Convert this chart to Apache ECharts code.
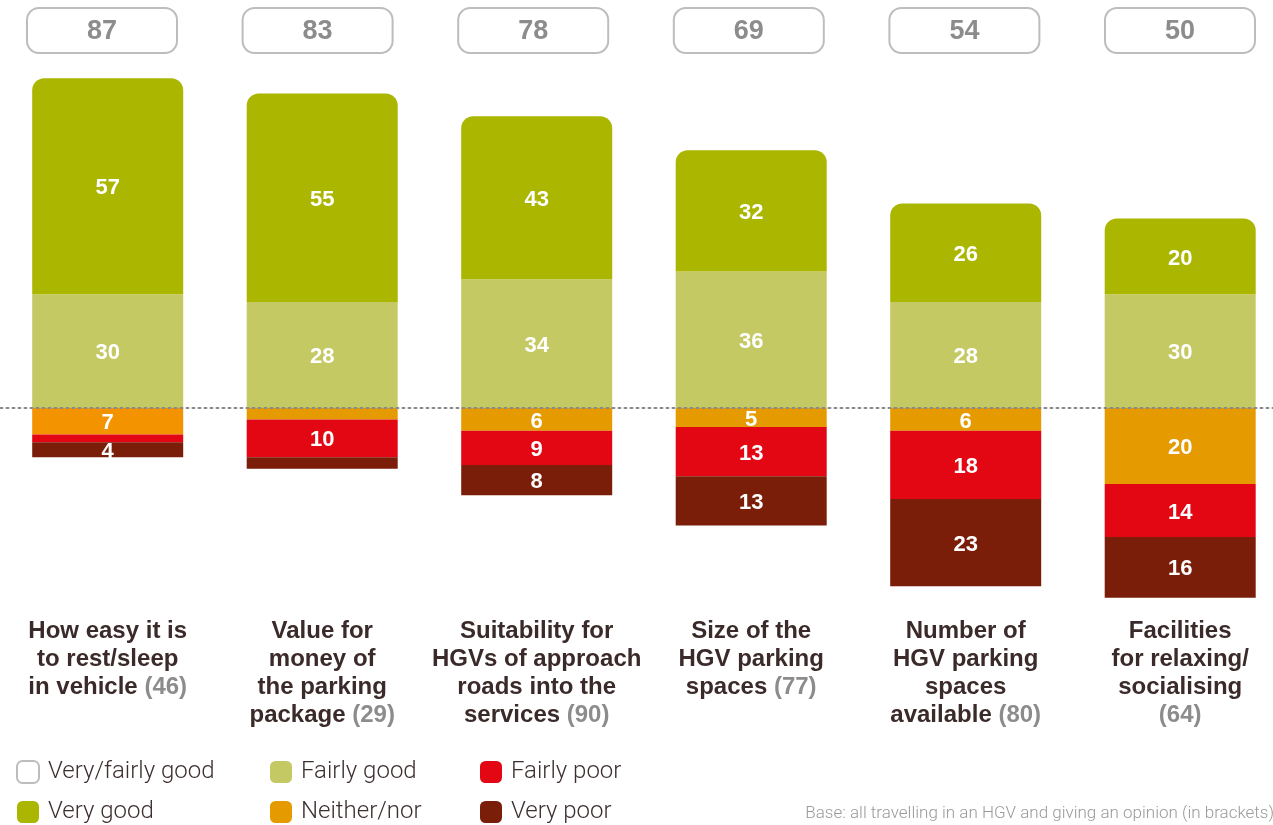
<!DOCTYPE html>
<html>
<head>
<meta charset="utf-8">
<script src="https://cdn.jsdelivr.net/npm/echarts@6/dist/echarts.min.js"></script>
<style>
  html, body { margin: 0; padding: 0; background: #fff; }
  #chart { width: 1273px; height: 825px; }
</style>
</head>
<body>
<div id="chart"></div>
<script>
// categories, last line gets the base in brackets (trailing \n = base on own line)
const categories = [
  'How easy it is\nto rest/sleep\nin vehicle',
  'Value for\nmoney of\nthe parking\npackage',
  'Suitability for\nHGVs of approach\nroads into the\nservices',
  'Size of the\nHGV parking\nspaces',
  'Number of\nHGV parking\nspaces\navailable',
  'Facilities\nfor relaxing/\nsocialising\n'
];
const bases = [46, 29, 90, 77, 80, 64];
const totals = [87, 83, 78, 69, 54, 50];
const veryGood = [57, 55, 43, 32, 26, 20];
const fairlyGood = [30, 28, 34, 36, 28, 30];
const neither = [7, 3, 6, 5, 6, 20];
const fairlyPoor = [2, 10, 9, 13, 18, 14];
const veryPoor = [4, 3, 8, 13, 23, 16];

const colors = {
  veryGood: '#aab600',
  fairlyGood: '#c5c963',
  neither: '#e59b00',
  fairlyPoor: '#e30613',
  veryPoor: '#7a1e0a'
};

const chart = echarts.init(document.getElementById('chart'));

const barLabel = {
  show: true,
  position: 'inside',
  offset: [0, 2],
  color: '#fff',
  fontSize: 22,
  fontWeight: 'bold',
  fontFamily: 'Liberation Sans, Arial, sans-serif',
  formatter: (p) => (Math.abs(p.value) >= 4 ? Math.abs(p.value) : '')
};

const neg = (arr) => arr.map((v) => -v);

const legendBase = {
  type: 'plain',
  orient: 'vertical',
  padding: 0,
  itemWidth: 22,
  itemHeight: 22,
  itemGap: 16,
  icon: 'roundRect',
  selectedMode: false,
  textStyle: {
    fontSize: 24,
    fontWeight: 300,
    fontFamily: 'Roboto, sans-serif',
    color: '#3d2f2f',
    padding: [0, 0, 0, 4]
  },
  top: 760,
  height: 65
};

const option = {
  animation: false,
  textStyle: { fontFamily: 'Liberation Sans, Arial, sans-serif' },
  title: {
    text: 'Base: all travelling in an HGV and giving an opinion (in brackets)',
    right: -6,
    bottom: -2,
    textStyle: { fontSize: 17, fontWeight: 300, color: '#9a9a9a', fontFamily: 'Roboto, sans-serif' }
  },
  legend: [
    Object.assign({}, legendBase, { left: 16, data: ['Very/fairly good', 'Very good'] }),
    Object.assign({}, legendBase, { left: 270, data: ['Fairly good', 'Neither/nor'] }),
    Object.assign({}, legendBase, { left: 480, data: ['Fairly poor', 'Very poor'] })
  ],
  grid: [
    { left: 0.45, width: 1287, top: 29, height: 580, outerBoundsMode: 'none' },
    { left: -5.8, width: 1293.6, top: 30.5, height: 1, outerBoundsMode: 'none' }
  ],
  xAxis: [
    {
      type: 'category',
      gridIndex: 0,
      data: categories,
      axisLine: { show: false },
      axisTick: { show: false },
      axisLabel: {
        interval: 0,
        margin: 8,
        lineHeight: 28,
        formatter: (value, idx) => {
          const lines = value.split('\n');
          const last = lines.length - 1;
          return lines.map((l, i) => {
            let s = l ? '{b|' + l + '}' : '';
            if (i === last) s += (l ? '{b| }' : '') + '{g|(' + bases[idx] + ')}';
            return s;
          }).join('\n');
        },
        rich: {
          b: { fontSize: 24, fontWeight: 'bold', color: '#3b2a2a', lineHeight: 28, fontFamily: 'Liberation Sans, Arial, sans-serif' },
          g: { fontSize: 24, fontWeight: 'bold', color: '#8c8c8c', lineHeight: 28, fontFamily: 'Liberation Sans, Arial, sans-serif' }
        }
      }
    },
    {
      type: 'category',
      gridIndex: 1,
      position: 'top',
      data: totals.map(String),
      axisLine: { show: false },
      axisTick: { show: false },
      axisLabel: {
        interval: 0,
        margin: 0,
        verticalAlign: 'middle',
        fontWeight: 'bold',
        formatter: (v) => '{box|' + v + '}',
        rich: {
          box: {
            width: 148,
            height: 40,
            padding: [3, 0, 0, 0],
            align: 'center',
            backgroundColor: '#fff',
            borderColor: '#bdbdbd',
            borderWidth: 2,
            borderRadius: 11,
            fontSize: 27,
            fontWeight: 'bold',
            color: '#8c8c8c',
            fontFamily: 'Liberation Sans, Arial, sans-serif'
          }
        }
      }
    }
  ],
  yAxis: [
    { type: 'value', gridIndex: 0, min: -53, max: 100, show: false },
    { type: 'value', gridIndex: 1, min: 0, max: 1, show: false }
  ],
  series: [
    {
      name: 'baseline',
      type: 'line',
      data: [],
      z: 1,
      markLine: {
        silent: true,
        symbol: 'none',
        label: { show: false },
        lineStyle: { color: '#8a8a8a', type: [2, 4], width: 2, cap: 'round' },
        data: [{ yAxis: 0 }]
      }
    },
    {
      name: 'Very/fairly good',
      type: 'bar',
      data: [],
      itemStyle: { color: '#fff', borderColor: '#bdbdbd', borderWidth: 2 }
    },
    {
      name: 'Fairly good',
      type: 'bar',
      stack: 'a',
      barWidth: 151,
      z: 2,
      data: fairlyGood,
      itemStyle: { color: colors.fairlyGood },
      label: barLabel
    },
    {
      name: 'Very good',
      type: 'bar',
      stack: 'a',
      barWidth: 151,
      z: 2,
      data: veryGood,
      itemStyle: { color: colors.veryGood, borderRadius: [12, 12, 0, 0] },
      label: barLabel
    },
    {
      name: 'Neither/nor',
      type: 'bar',
      stack: 'a',
      barWidth: 151,
      z: 2,
      data: neg(neither).map((v, i) => (i === 0 ? { value: v, itemStyle: { color: '#f39300' } } : v)),
      itemStyle: { color: colors.neither },
      label: barLabel
    },
    {
      name: 'Fairly poor',
      type: 'bar',
      stack: 'a',
      barWidth: 151,
      z: 2,
      data: neg(fairlyPoor),
      itemStyle: { color: colors.fairlyPoor },
      label: barLabel
    },
    {
      name: 'Very poor',
      type: 'bar',
      stack: 'a',
      barWidth: 151,
      z: 2,
      data: neg(veryPoor),
      itemStyle: { color: colors.veryPoor },
      label: barLabel
    }
  ]
};

chart.setOption(option);
</script>
</body>
</html>
